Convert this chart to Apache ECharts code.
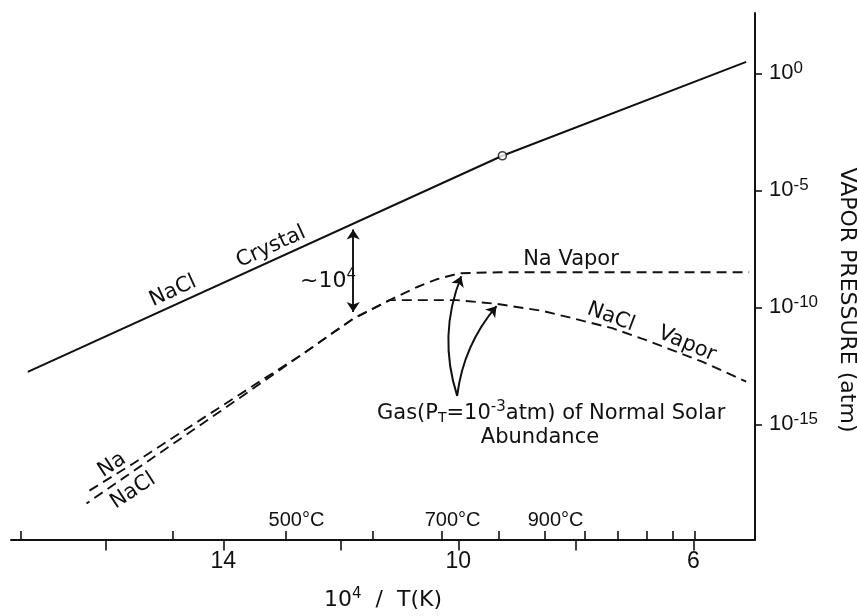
<!DOCTYPE html>
<html>
<head>
<meta charset="utf-8">
<script src="https://cdn.jsdelivr.net/npm/echarts@6/dist/echarts.min.js"></script>
<style>html,body{margin:0;padding:0;background:#fff}#c{width:857px;height:616px}</style>
</head>
<body>
<div id="c"></div>
<script>
// x = 10^4 / T(K) ; y = log10(vapor pressure / atm)
const crystalX = [17.33, 9.25, 5.10];
const crystalY = [-12.76, -3.52, 0.49];
const naVaporX = [16.28, 15.54, 14.41, 13.21, 12.70, 11.80, 11.17, 10.71, 10.37, 9.98, 9.30, 5.05];
const naVaporY = [-17.83, -16.68, -14.84, -12.89, -12.08, -10.50, -9.69, -9.14, -8.80, -8.54, -8.50, -8.50];
const naclVaporX = [16.33, 15.26, 14.41, 13.55, 12.70, 11.80, 11.17, 10.03, 9.35, 8.57, 8.11, 7.38, 6.80, 5.85, 5.10];
const naclVaporY = [-18.38, -16.53, -15.06, -13.57, -12.08, -10.50, -9.69, -9.69, -9.85, -10.15, -10.43, -10.89, -11.40, -12.32, -13.17];
const meltX = [9.25];
const meltY = [-3.52];
const gapArrowX = [11.79, 11.79];
const gapArrowY = [-6.67, -10.20];
const solarFrom = [10.02, -13.78];
const solarToNa = [9.95, -8.67];
const solarToNaCl = [9.35, -9.95];
const invTTicks = [16, 14, 12, 10, 8, 6];
const invTLabels = [14, 10, 6];
const tempTicksC = [300, 400, 500, 600, 700, 800, 900, 1000, 1100, 1200, 1300, 1400];
const tempLabelsC = [500, 700, 900];
const pressureExpTicks = [0, -5, -10, -15];

const X_MIN = 4.95, X_MAX = 17.615, Y_MIN = -19.92, Y_MAX = 2.58;
const toInvT = c => 1e4 / (c + 273.15);
const zip = (xs, ys) => xs.map((x, i) => [x, ys[i]]);
const TF = 'DejaVu Sans';
const NF = 'Liberation Sans';
const BLACK = '#111';
const GRID = {left: 11, right: 102, top: 13, bottom: 75};

const chart = echarts.init(document.getElementById('c'), null, {renderer: 'canvas'});

function buildOption(naclOffset) {
  return {
    animation: false,
    backgroundColor: '#fff',
    grid: [
      Object.assign({containLabel: false}, GRID),
      Object.assign({containLabel: false}, GRID)
    ],
    xAxis: [
      {
        type: 'value', gridIndex: 0, min: X_MIN, max: X_MAX, inverse: true, position: 'bottom',
        axisLine: {show: true, onZero: false, lineStyle: {color: BLACK, width: 2}},
        axisTick: {show: true, inside: false, length: 11, customValues: invTTicks, lineStyle: {color: BLACK, width: 1.6}},
        axisLabel: {show: true, customValues: invTLabels, margin: 11, color: BLACK, fontSize: 23, fontFamily: NF},
        splitLine: {show: false},
        name: '{b|10}{s|4}{b|  /  T(K)}', nameLocation: 'middle', nameGap: 47,
        nameTextStyle: {
          rich: {
            b: {fontSize: 22, fontFamily: TF, color: BLACK},
            s: {fontSize: 15, fontFamily: TF, color: BLACK, padding: [0, 0, 12, 0]}
          }
        }
      },
      {
        type: 'value', gridIndex: 1, min: X_MIN, max: X_MAX, inverse: true, position: 'bottom',
        axisLine: {show: false, onZero: false},
        axisTick: {show: true, inside: true, length: 10, customValues: tempTicksC.map(toInvT), lineStyle: {color: BLACK, width: 1.6}},
        axisLabel: {
          show: true, inside: true, margin: 11, customValues: tempLabelsC.map(toInvT),
          formatter: v => '{p| }{n|' + Math.round(1e4 / v - 273.15) + '}{u|°C}',
          rich: {
            p: {width: 21, fontSize: 20, fontFamily: NF},
            n: {fontSize: 20, fontFamily: NF, color: BLACK},
            u: {fontSize: 20, fontFamily: NF, color: BLACK}
          }
        },
        splitLine: {show: false}
      }
    ],
    yAxis: [
      {
        type: 'value', gridIndex: 0, position: 'right', min: Y_MIN, max: Y_MAX,
        axisLine: {show: true, onZero: false, lineStyle: {color: BLACK, width: 2}},
        axisTick: {show: true, inside: false, length: 7, customValues: pressureExpTicks, lineStyle: {color: BLACK, width: 1.6}},
        axisLabel: {
          show: true, customValues: pressureExpTicks, margin: 14,
          formatter: v => '{b|10}{s|' + v + '}',
          rich: {
            b: {fontSize: 22, fontFamily: NF, color: BLACK},
            s: {fontSize: 17, fontFamily: NF, color: BLACK, padding: [0, 0, 11, 0]}
          }
        },
        splitLine: {show: false}
      },
      {type: 'value', gridIndex: 1, min: Y_MIN, max: Y_MAX, show: false}
    ],
    series: [
      {
        type: 'line', name: 'NaCl Crystal', xAxisIndex: 0, yAxisIndex: 0,
        data: zip(crystalX, crystalY), symbol: 'none', z: 3,
        lineStyle: {color: BLACK, width: 2}
      },
      {
        type: 'line', name: 'Na Vapor', xAxisIndex: 0, yAxisIndex: 0,
        data: zip(naVaporX, naVaporY), symbol: 'none',
        lineStyle: {color: BLACK, width: 1.9, type: [10, 6], dashOffset: 0}
      },
      {
        type: 'line', name: 'NaCl Vapor', xAxisIndex: 0, yAxisIndex: 0,
        data: zip(naclVaporX, naclVaporY), symbol: 'none',
        lineStyle: {color: BLACK, width: 1.9, type: [10, 6], dashOffset: naclOffset}
      },
      {
        type: 'scatter', name: 'melting point', xAxisIndex: 0, yAxisIndex: 0,
        data: zip(meltX, meltY), symbol: 'circle', symbolSize: 8, z: 6,
        itemStyle: {color: '#fff', borderColor: BLACK, borderWidth: 1.6}
      },
      {
        type: 'lines', coordinateSystem: 'cartesian2d', xAxisIndex: 0, yAxisIndex: 0,
        symbol: ['arrow', 'arrow'], symbolSize: 10,
        lineStyle: {color: BLACK, width: 1.9, opacity: 1},
        data: [{coords: zip(gapArrowX, gapArrowY)}]
      },
      {
        type: 'lines', coordinateSystem: 'cartesian2d', xAxisIndex: 0, yAxisIndex: 0,
        symbol: ['none', 'arrow'], symbolSize: 10,
        lineStyle: {color: BLACK, width: 2, opacity: 1},
        data: [
          {coords: [solarFrom, solarToNa], lineStyle: {curveness: 0.18}},
          {coords: [solarFrom, solarToNaCl], lineStyle: {curveness: 0.15}}
        ]
      }
    ],
    graphic: [
      {type: 'text', x: 173, y: 291, rotation: 0.43, style: {text: 'NaCl', fontSize: 21, fontFamily: TF, fill: BLACK, align: 'center', verticalAlign: 'middle'}},
      {type: 'text', x: 271, y: 247, rotation: 0.43, style: {text: 'Crystal', fontSize: 21, fontFamily: TF, fill: BLACK, align: 'center', verticalAlign: 'middle'}},
      {type: 'text', x: 356, y: 281, style: {text: '{b|~10}{s|4}', align: 'right', verticalAlign: 'middle',
        rich: {b: {fontSize: 22, fontFamily: TF, fill: BLACK}, s: {fontSize: 15, fontFamily: TF, fill: BLACK, padding: [0, 0, 12, 0]}}}},
      {type: 'text', x: 571, y: 260, style: {text: 'Na Vapor', fontSize: 21, fontFamily: TF, fill: BLACK, align: 'center', verticalAlign: 'middle'}},
      {type: 'text', x: 611, y: 317, rotation: -0.36, style: {text: 'NaCl', fontSize: 21, fontFamily: TF, fill: BLACK, align: 'center', verticalAlign: 'middle'}},
      {type: 'text', x: 687, y: 344, rotation: -0.40, style: {text: 'Vapor', fontSize: 21, fontFamily: TF, fill: BLACK, align: 'center', verticalAlign: 'middle'}},
      {type: 'text', x: 112, y: 465, rotation: 0.58, style: {text: 'Na', fontSize: 21, fontFamily: TF, fill: BLACK, align: 'center', verticalAlign: 'middle'}},
      {type: 'text', x: 133, y: 491, rotation: 0.58, style: {text: 'NaCl', fontSize: 21, fontFamily: TF, fill: BLACK, align: 'center', verticalAlign: 'middle'}},
      {type: 'text', x: 377, y: 414, style: {text: '{b|Gas(P}{sub|T}{b|=10}{sup|-3}{b|atm) of Normal Solar}', align: 'left', verticalAlign: 'middle',
        rich: {
          b: {fontSize: 21, fontFamily: TF, fill: BLACK},
          sub: {fontSize: 14, fontFamily: TF, fill: BLACK, padding: [9, 0, 0, 0]},
          sup: {fontSize: 15, fontFamily: TF, fill: BLACK, padding: [0, 0, 13, 0]}
        }}},
      {type: 'text', x: 540, y: 438, style: {text: 'Abundance', fontSize: 21, fontFamily: TF, fill: BLACK, align: 'center', verticalAlign: 'middle'}},
      {type: 'text', x: 847, y: 300, rotation: -Math.PI / 2, style: {text: 'VAPOR PRESSURE (atm)', fontSize: 22, fontFamily: TF, fill: BLACK, align: 'center', verticalAlign: 'middle'}}
    ]
  };
}

chart.setOption(buildOption(0));

// align dash phase of the two vapor curves where they coincide
function pathLen(xs, ys, upto) {
  let L = 0;
  for (let i = 1; i <= upto; i++) {
    const a = chart.convertToPixel({xAxisIndex: 0, yAxisIndex: 0}, [xs[i - 1], ys[i - 1]]);
    const b = chart.convertToPixel({xAxisIndex: 0, yAxisIndex: 0}, [xs[i], ys[i]]);
    L += Math.hypot(b[0] - a[0], b[1] - a[1]);
  }
  return L;
}
const lNa = pathLen(naVaporX, naVaporY, 4);
const lNaCl = pathLen(naclVaporX, naclVaporY, 4);
let off = (lNa - lNaCl) % 16;
if (off < 0) off += 16;
chart.setOption(buildOption(off));
</script>
</body>
</html>
